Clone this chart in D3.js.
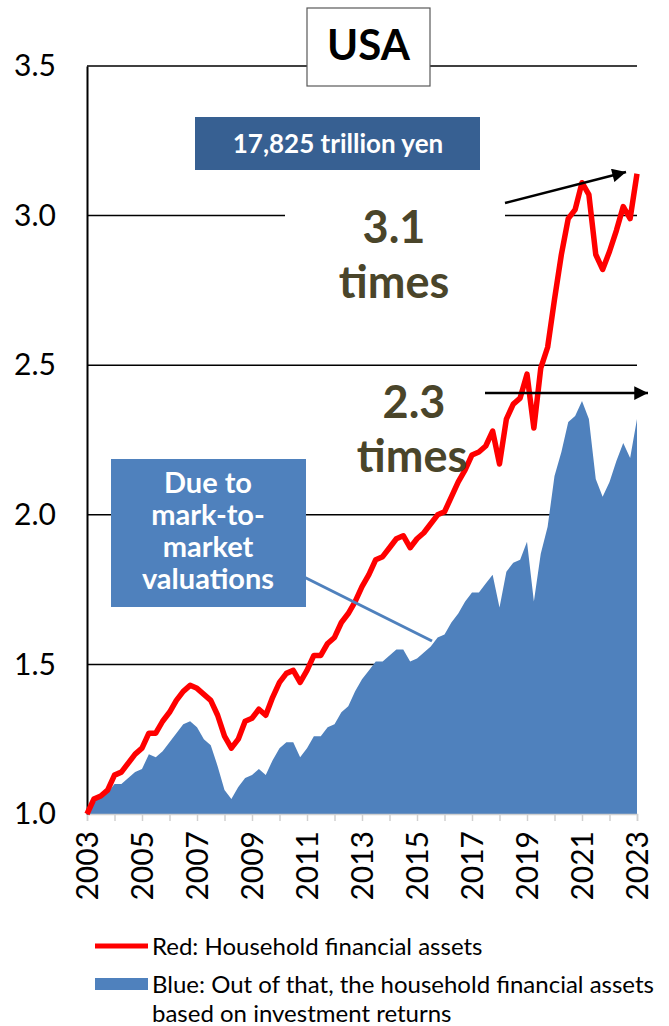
<!DOCTYPE html>
<html>
<head>
  <meta charset="utf-8">
  <script src="https://d3js.org/d3.v7.min.js"></script>
  <style>
    body { margin: 0; background: #fff; }
    svg { display: block; font-family: Lato, "Open Sans", sans-serif; }
  </style>
</head>
<body>
  <script>
    // quarterly index values, 2003 = 1.0 (81 quarters)
    const redAssets = [
      1.00, 1.05, 1.06, 1.08, 1.13, 1.14, 1.17, 1.20,
      1.22, 1.27, 1.27, 1.31, 1.34, 1.38, 1.41, 1.43,
      1.42, 1.40, 1.38, 1.33, 1.26, 1.22, 1.25, 1.31,
      1.32, 1.35, 1.33, 1.39, 1.44, 1.47, 1.48, 1.44,
      1.48, 1.53, 1.53, 1.57, 1.59, 1.64, 1.67, 1.71,
      1.76, 1.80, 1.85, 1.86, 1.89, 1.92, 1.93, 1.89,
      1.92, 1.94, 1.97, 2.00, 2.01, 2.06, 2.11, 2.15,
      2.20, 2.21, 2.23, 2.28, 2.17, 2.32, 2.37, 2.39,
      2.47, 2.29, 2.49, 2.56, 2.72, 2.87, 2.99, 3.02,
      3.11, 3.07, 2.87, 2.82, 2.88, 2.95, 3.03, 2.99,
      3.14
    ];
    const blueReturns = [
      1.00, 1.05, 1.06, 1.07, 1.10, 1.10, 1.12, 1.14,
      1.15, 1.20, 1.19, 1.21, 1.24, 1.27, 1.30, 1.31,
      1.29, 1.25, 1.23, 1.16, 1.08, 1.05, 1.09, 1.12,
      1.13, 1.15, 1.13, 1.18, 1.22, 1.24, 1.24, 1.19,
      1.22, 1.26, 1.26, 1.29, 1.30, 1.34, 1.36, 1.41,
      1.45, 1.48, 1.51, 1.51, 1.53, 1.55, 1.55, 1.51,
      1.52, 1.54, 1.56, 1.59, 1.60, 1.64, 1.67, 1.71,
      1.74, 1.74, 1.77, 1.80, 1.69, 1.81, 1.84, 1.85,
      1.91, 1.71, 1.87, 1.96, 2.13, 2.21, 2.31, 2.33,
      2.38, 2.32, 2.12, 2.06, 2.11, 2.18, 2.24, 2.19,
      2.32
    ];
    const yearTicks = d3.range(2003, 2024);
    const yearLabels = ["2003", "2005", "2007", "2009", "2011", "2013",
                        "2015", "2017", "2019", "2021", "2023"];
    const yTicks = [1.0, 1.5, 2.0, 2.5, 3.0, 3.5];

    const w = 669, h = 1026;
    const pLeft = 87, pRight = 637, pTop = 66, pBottom = 814;

    const x = d3.scaleLinear().domain([2003, 2023]).range([pLeft, pRight]);
    const y = d3.scaleLinear().domain([1, 3.5]).range([pBottom, pTop]);
    const qx = (d, i) => x(2003 + i / 4);

    const svg = d3.select("body").append("svg")
      .attr("width", w).attr("height", h);

    // arrow marker
    svg.append("defs").append("marker")
      .attr("id", "arrow")
      .attr("viewBox", "0 0 10 10")
      .attr("refX", 10).attr("refY", 5)
      .attr("markerWidth", 6.5).attr("markerHeight", 5.5)
      .attr("markerUnits", "strokeWidth")
      .attr("orient", "auto")
      .append("path").attr("d", "M0,0 L10,5 L0,10 z").attr("fill", "#000");

    // gridlines
    svg.append("g").selectAll("line")
      .data(yTicks.filter(d => d > 1))
      .enter().append("line")
      .attr("x1", pLeft).attr("x2", pRight)
      .attr("y1", d => y(d)).attr("y2", d => y(d))
      .attr("stroke", "#000").attr("stroke-width", 1.5);

    // blue area
    const area = d3.area()
      .x(qx)
      .y0(y(1))
      .y1(d => y(d));
    svg.append("path")
      .datum(blueReturns)
      .attr("d", area)
      .attr("fill", "#4f81bd");

    // x axis
    const xAxis = d3.axisBottom(x)
      .tickValues(yearTicks)
      .tickSize(7)
      .tickFormat(d => yearLabels.includes(String(d)) ? String(d) : "");
    const gx = svg.append("g")
      .attr("transform", "translate(0," + pBottom + ")")
      .call(xAxis);
    gx.select(".domain").attr("stroke", "#d0d0d0").attr("stroke-width", 1.5);
    gx.selectAll(".tick line").attr("stroke", "#d0d0d0").attr("stroke-width", 1.5);
    gx.selectAll(".tick text")
      .attr("font-size", 30)
      .attr("font-family", "Lato, sans-serif")
      .attr("fill", "#000")
      .attr("transform", "rotate(-90)")
      .attr("text-anchor", "end")
      .attr("x", -17)
      .attr("y", 0)
      .attr("dy", "0.35em");

    // y axis
    const yAxis = d3.axisLeft(y)
      .tickValues(yTicks)
      .tickSize(0)
      .tickPadding(31)
      .tickFormat(d3.format(".1f"));
    const gy = svg.append("g")
      .attr("transform", "translate(" + pLeft + ",0)")
      .call(yAxis);
    gy.select(".domain").attr("stroke", "#000").attr("stroke-width", 2);
    gy.selectAll(".tick text")
      .attr("font-size", 30)
      .attr("font-family", "Lato, sans-serif")
      .attr("fill", "#000");

    // red line
    const line = d3.line().x(qx).y(d => y(d));
    svg.append("path")
      .datum(redAssets)
      .attr("d", line)
      .attr("fill", "none")
      .attr("stroke", "#ff0000")
      .attr("stroke-width", 5.5)
      .attr("stroke-linejoin", "round");

    // title box
    svg.append("rect")
      .attr("x", 307).attr("y", 8).attr("width", 123).attr("height", 78)
      .attr("fill", "#fff").attr("stroke", "#595959").attr("stroke-width", 1.2);
    svg.append("text")
      .attr("x", 368.5).attr("y", 60)
      .attr("text-anchor", "middle")
      .attr("font-size", 42).attr("font-weight", "bold")
      .text("USA");

    // 17,825 trillion yen box
    svg.append("rect")
      .attr("x", 195).attr("y", 117).attr("width", 285).attr("height", 53)
      .attr("fill", "#376092");
    svg.append("text")
      .attr("x", 338).attr("y", 153)
      .attr("text-anchor", "middle")
      .attr("font-size", 26).attr("font-weight", "bold")
      .attr("fill", "#fff")
      .text("17,825 trillion yen");

    // 3.1 times (white background)
    svg.append("rect")
      .attr("x", 285).attr("y", 190).attr("width", 220).attr("height", 125)
      .attr("fill", "#fff");
    const olive = "#4a452a";
    const bigText = [
      { t: "3.1", cx: 394, by: 243 },
      { t: "times", cx: 394, by: 298 },
      { t: "2.3", cx: 414, by: 418 },
      { t: "times", cx: 412, by: 472 }
    ];
    svg.append("g").selectAll("text")
      .data(bigText)
      .enter().append("text")
      .attr("x", d => d.cx).attr("y", d => d.by)
      .attr("text-anchor", "middle")
      .attr("font-size", 45).attr("font-weight", "bold")
      .attr("fill", olive)
      .text(d => d.t);

    // arrows
    svg.append("line")
      .attr("x1", 505).attr("y1", 203).attr("x2", 626).attr("y2", 172)
      .attr("stroke", "#000").attr("stroke-width", 2.5)
      .attr("marker-end", "url(#arrow)");
    svg.append("line")
      .attr("x1", 485).attr("y1", 393).attr("x2", 648).attr("y2", 393)
      .attr("stroke", "#000").attr("stroke-width", 2.5)
      .attr("marker-end", "url(#arrow)");

    // callout
    svg.append("line")
      .attr("x1", 300).attr("y1", 575).attr("x2", 432).attr("y2", 641)
      .attr("stroke", "#4f81bd").attr("stroke-width", 3);
    svg.append("rect")
      .attr("x", 111).attr("y", 459).attr("width", 195).attr("height", 148)
      .attr("fill", "#4f81bd");
    const callout = ["Due to", "mark-to-", "market", "valuations"];
    svg.append("g").selectAll("text")
      .data(callout)
      .enter().append("text")
      .attr("x", 208).attr("y", (d, i) => 493 + i * 32)
      .attr("text-anchor", "middle")
      .attr("font-size", 29).attr("font-weight", "bold")
      .attr("fill", "#fff")
      .text(d => d);

    // legend
    const legend = svg.append("g").attr("font-size", 24).attr("fill", "#000");
    legend.append("line")
      .attr("x1", 95).attr("x2", 148).attr("y1", 946).attr("y2", 946)
      .attr("stroke", "#ff0000").attr("stroke-width", 5);
    legend.append("text").attr("x", 152).attr("y", 955)
      .text("Red: Household financial assets");
    legend.append("rect")
      .attr("x", 95).attr("y", 978).attr("width", 53).attr("height", 12)
      .attr("fill", "#4f81bd");
    legend.append("text").attr("x", 152).attr("y", 993)
      .text("Blue: Out of that, the household financial assets");
    legend.append("text").attr("x", 152).attr("y", 1022)
      .text("based on investment returns");
  </script>
</body>
</html>
